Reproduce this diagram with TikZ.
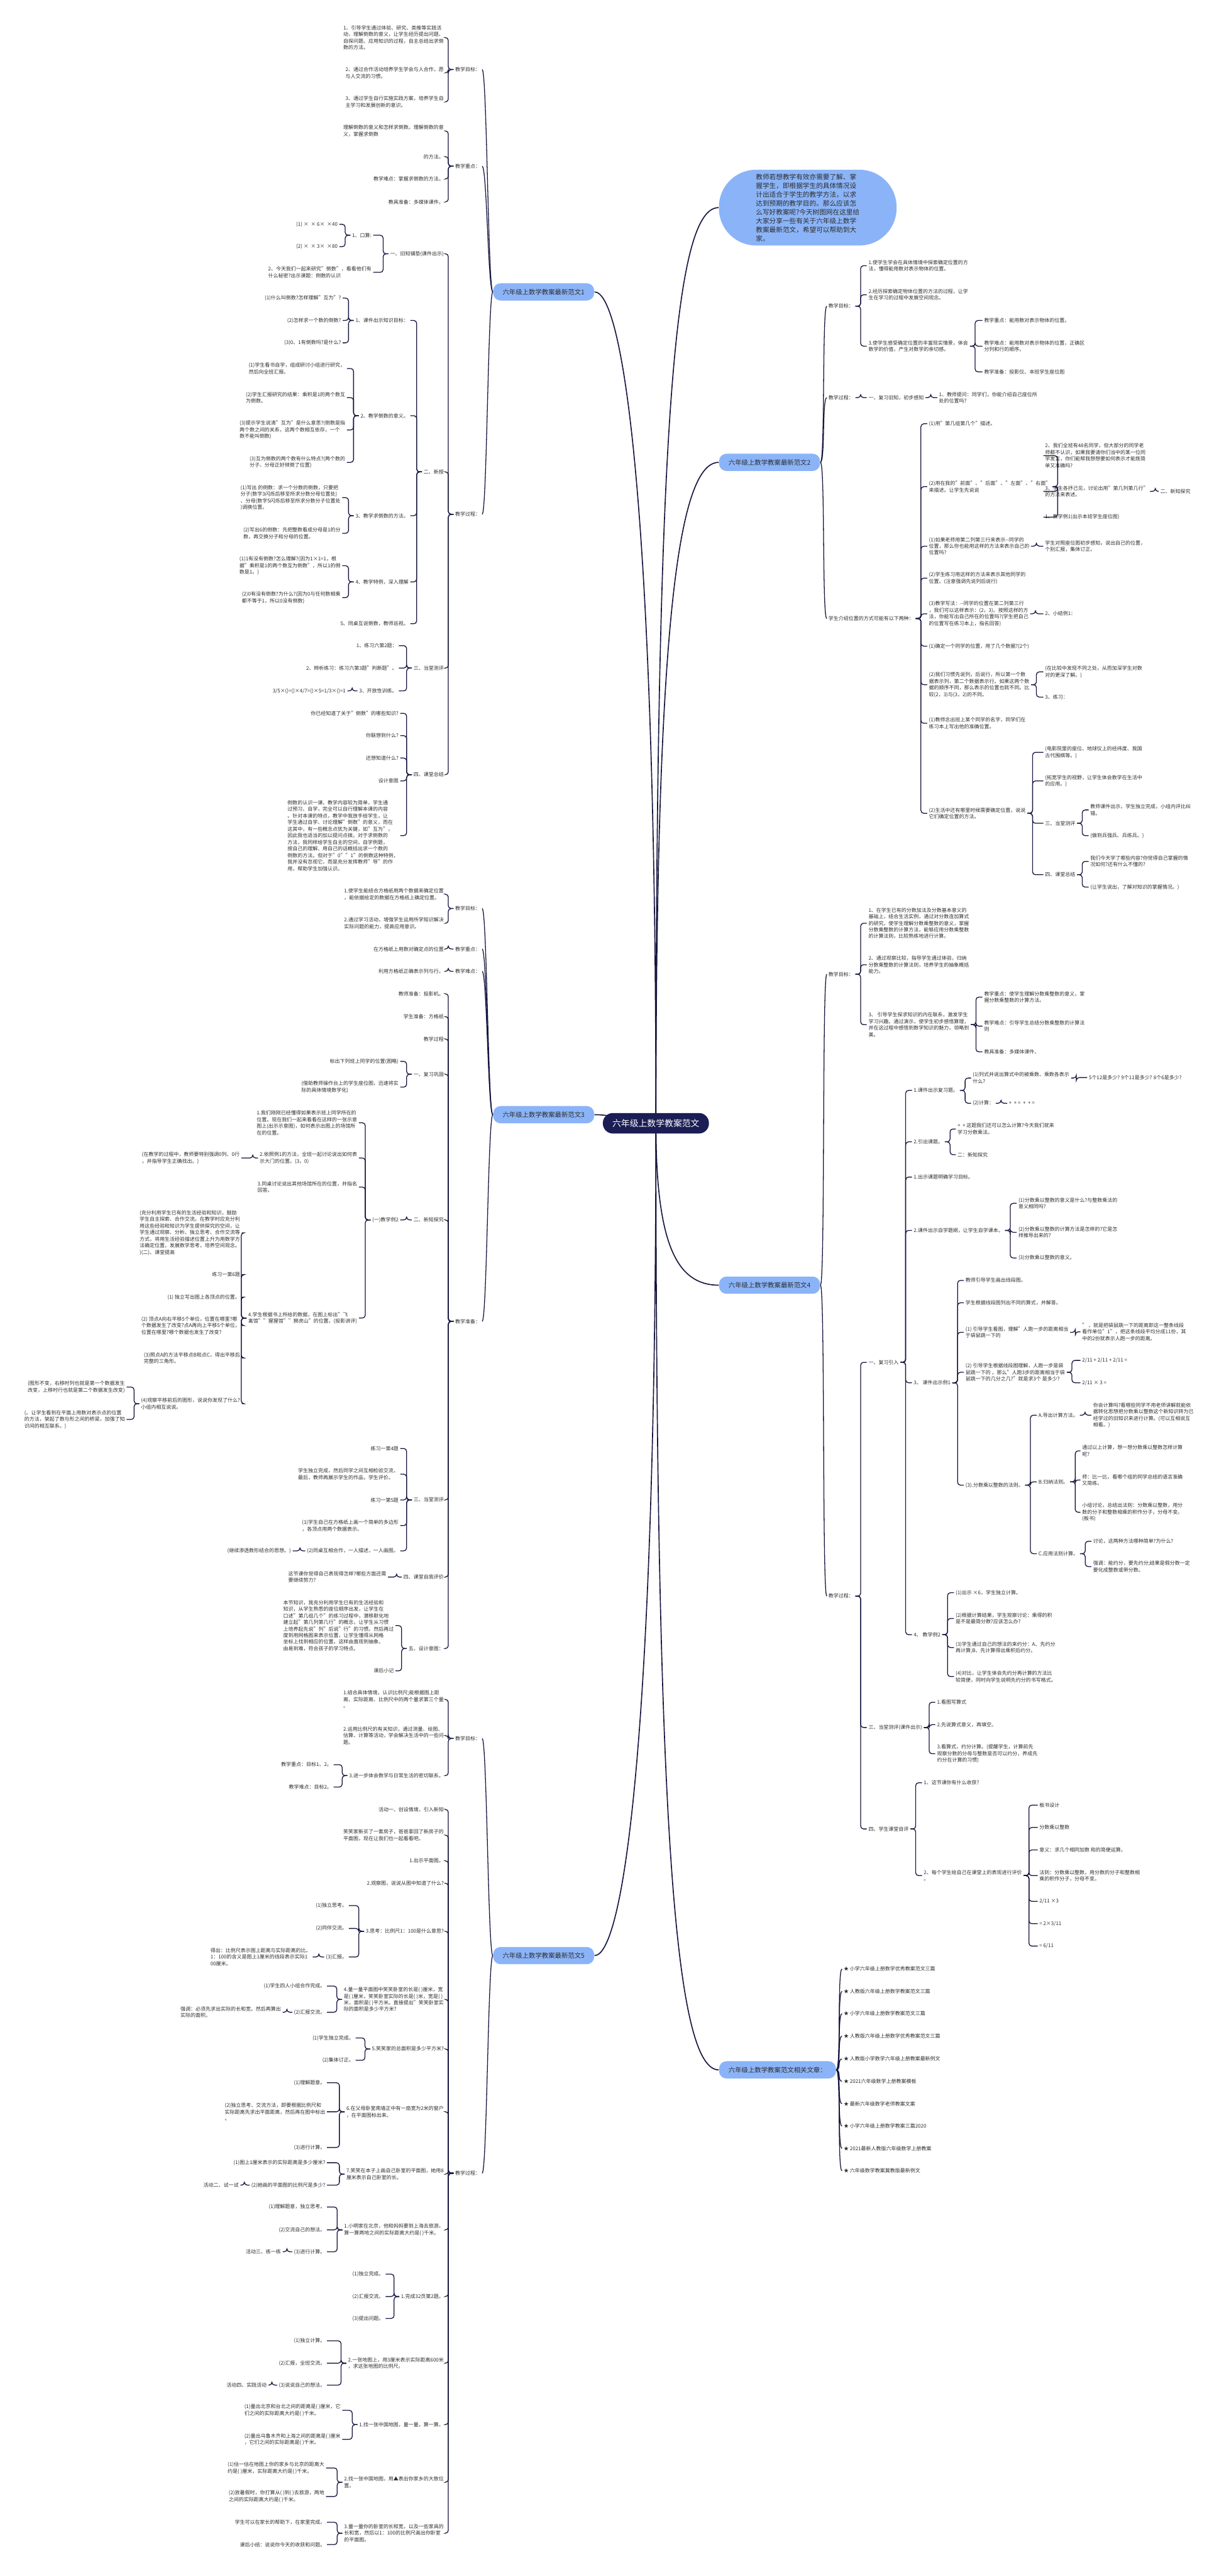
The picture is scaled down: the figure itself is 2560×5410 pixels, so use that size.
\documentclass[tikz,border=0pt]{standalone}
\usepackage{fontspec}
\setmainfont{Noto Sans CJK SC}
\usetikzlibrary{backgrounds}
\definecolor{mapNavy}{RGB}{27,29,84}
\definecolor{mapLine}{RGB}{22,22,64}
\definecolor{mapBlue}{RGB}{139,180,248}
\definecolor{mapText}{RGB}{45,45,45}
\newcommand\ft{\fontsize{3pt}{3.93pt}\selectfont}
\newcommand\joinL[2]{\foreach \kid in {#2} \draw[br] (#1.west) -- ++(-11,0) |- (#1\kid.east);}
\newcommand\joinR[2]{\foreach \kid in {#2} \draw[br] (#1.east) -- ++(11,0) |- (#1\kid.west);}
\newcommand\fanL[2]{\foreach \kid in {#2} \draw[br] (#1.west) .. controls +(-10,0) and +(10,0) .. (#1\kid.east);}
\newcommand\fanR[2]{\foreach \kid in {#2} \draw[br] (#1.east) .. controls +(10,0) and +(-10,0) .. (#1\kid.west);}
\begin{document}
\begin{tikzpicture}[x=0.01cm, y=-0.01cm,
    lf/.style={anchor=east, font=\ft, text=mapText, align=left, inner sep=0.03cm},
    rt/.style={anchor=west, font=\ft, text=mapText, align=left, inner sep=0.03cm},
    root/.style={fill=mapNavy, text=white, rounded corners=0.21cm, minimum height=0.43cm,
                 inner xsep=0.2cm, font=\fontsize{5.2pt}{6pt}\selectfont},
    topic/.style={fill=mapBlue, text=mapText, rounded corners=0.155cm, minimum height=0.31cm,
                  inner xsep=0.2cm, font=\fontsize{3.9pt}{4.5pt}\selectfont},
    note/.style={fill=mapBlue, text=mapText, rounded corners=0.78cm, minimum width=3.73cm,
                 minimum height=1.59cm, align=left, inner sep=0pt, font=\fontsize{4pt}{5.25pt}\selectfont},
    br/.style={draw=mapLine, line width=0.017cm, rounded corners=0.06cm},
    cv/.style={draw=mapLine, line width=0.022cm},
  ]
  \begin{scope}[on background layer]
    \fill[white] (0,0) rectangle (2560,5410);
  \end{scope}
  \useasboundingbox (0,0) rectangle (2560,5410);

  \node[root] (R) at (1378,2359) {六年级上数学教案范文};

  % ---------- 范文1 ----------
  \node[topic, anchor=east] (A) at (1249,613) {六年级上数学教案最新范文1};
  \node[lf] (A1) at (1013,146) {教学目标：};
  \node[lf] (A2) at (1013,349) {教学重点：};
  \node[lf] (A3) at (1013,1080) {教学过程：};
  \node[lf] (A1a) at (936,79) {1、引导学生通过体验、研究、类推等实践活\\动，理解倒数的意义，让学生经历提出问题、\\自探问题、应用知识的过程，自主总结出求倒\\数的方法。};
  \node[lf] (A1b) at (936,153) {2、通过合作活动培养学生学会与人合作，愿\\与人交流的习惯。};
  \node[lf] (A1c) at (936,214) {3、通过学生自行实施实践方案，培养学生自\\主学习和发展创新的意识。};
  \node[lf] (A2a) at (936,275) {理解倒数的意义和怎样求倒数。理解倒数的意\\义，掌握求倒数};
  \node[lf] (A2b) at (936,329) {的方法。};
  \node[lf] (A2c) at (936,376) {教学难点：掌握求倒数的方法。};
  \node[lf] (A2d) at (936,424) {教具准备：多媒体课件。};
  \node[lf] (A3a) at (936,533) {一、旧知铺垫(课件出示)};
  \node[lf] (A3b) at (936,991) {二、新授};
  \node[lf] (A3c) at (936,1403) {三、当堂测评};
  \node[lf] (A3d) at (936,1627) {四、课堂总结};
  \node[lf] (A3a1) at (784,494) {1、口算:};
  \node[lf] (A3a2) at (784,572) {2、今天我们一起来研究"倒数"，看看他们有\\什么秘密?出示课题：倒数的认识};
  \node[lf] (A3a1a) at (713,471) {(1) × \ × 6× \ ×40};
  \node[lf] (A3a1b) at (713,518) {(2) × \ × 3× \ ×80};
  \node[lf] (A3b1) at (862,673) {1、课件出示知识目标：};
  \node[lf] (A3b2) at (862,873) {2、教学倒数的意义。};
  \node[lf] (A3b3) at (862,1083) {3、教学求倒数的方法。};
  \node[lf] (A3b4) at (862,1222) {4、教学特例，深入理解};
  \node[lf] (A3b5) at (862,1310) {5、同桌互说倒数，教师巡视。};
  \node[lf] (A3b1a) at (720,626) {(1)什么叫倒数?怎样理解"互为"?};
  \node[lf] (A3b1b) at (720,673) {(2)怎样求一个数的倒数?};
  \node[lf] (A3b1c) at (720,720) {(3)0、1有倒数吗?是什么?};
  \node[lf] (A3b2a) at (729,774) {(1)学生看书自学，组成研讨小组进行研究，\\然后向全班汇报。};
  \node[lf] (A3b2b) at (729,835) {(2)学生汇报研究的结果：乘积是1的两个数互\\为倒数。};
  \node[lf] (A3b2c) at (729,903) {(3)提示学生说清"互为"是什么意思?(倒数是指\\两个数之间的关系，这两个数相互依存，一个\\数不能叫倒数)};
  \node[lf] (A3b2d) at (729,971) {(3)互为倒数的两个数有什么特点?(两个数的\\分子、分母正好倾倒了位置)};
  \node[lf] (A3b3a) at (719,1045) {(1)写出 的倒数：求一个分数的倒数，只要把\\分子(数字3闪烁后移至所求分数分母位置处)\\、分母(数字5闪烁后移至所求分数分子位置处\\)调换位置。};
  \node[lf] (A3b3b) at (719,1120) {(2)写出6的倒数：先把整数看成分母是1的分\\数，再交换分子和分母的位置。};
  \node[lf] (A3b4a) at (719,1188) {(1)1有没有倒数?怎么理解?(因为1×1=1，根\\据"乘积是1的两个数互为倒数"，所以1的倒\\数是1。)};
  \node[lf] (A3b4b) at (719,1255) {(2)0有没有倒数?为什么?(因为0与任何数相乘\\都不等于1，所以0没有倒数)};
  \node[lf] (A3c1) at (838,1356) {1、练习六第2题：};
  \node[lf] (A3c2) at (838,1403) {2、辨析练习：练习六第3题"判断题"。};
  \node[lf] (A3c3) at (838,1451) {3、开放性训练。};
  \node[lf] (A3c3a) at (730,1451) {3/5×()=()×4/7=()×5=1/3×()=1};
  \node[lf] (A3d1) at (841,1498) {你已经知道了关于"倒数"的哪些知识?};
  \node[lf] (A3d2) at (841,1545) {你联想到什么?};
  \node[lf] (A3d3) at (841,1592) {还想知道什么?};
  \node[lf] (A3d4) at (841,1640) {设计意图};
  \node[lf] (A3d5) at (841,1755) {倒数的认识一课，教学内容较为简单，学生通\\过预习、自学，完全可以自行理解本课的内容\\。针对本课的特点，教学中我放手给学生，让\\学生通过自学、讨论理解"倒数"的意义，而在\\这其中，有一些概念点犹为关键，如"互为"，\\因此我也适当的加以提问点拨。对于求倒数的\\方法，我同样给学生自主的空间，自学例题，\\按自己的理解、用自己的话概括出求一个数的\\倒数的方法。但对于"0""1"的倒数这种特例，\\我并没有忽视它，而是充分发挥教师"导"的作\\用，帮助学生加强认识。};

  % ---------- 范文3 ----------
  \node[topic, anchor=east] (B) at (1249,2341) {六年级上数学教案最新范文3};
  \node[lf] (B1) at (1013,1908) {教学目标：};
  \node[lf] (B2) at (1013,1993) {教学重点：};
  \node[lf] (B3) at (1013,2040) {教学难点：};
  \node[lf] (B4) at (1013,2775) {教学准备：};
  \node[lf] (B1a) at (936,1878) {1.使学生能结合方格纸用两个数据来确定位置\\，能依据给定的数据在方格纸上确定位置。};
  \node[lf] (B1b) at (936,1939) {2.通过学习活动，增强学生运用所学知识解决\\实际问题的能力，提高应用意识。};
  \node[lf] (B2a) at (936,1993) {在方格纸上用数对确定点的位置};
  \node[lf] (B3a) at (936,2040) {利用方格纸正确表示列与行。};
  \node[lf] (B4a) at (936,2087) {教师准备：投影机。};
  \node[lf] (B4b) at (936,2135) {学生准备：方格纸};
  \node[lf] (B4c) at (936,2182) {教学过程};
  \node[lf] (B4d) at (936,2256) {一、复习巩固};
  \node[lf] (B4e) at (936,2562) {二、新知探究};
  \node[lf] (B4f) at (936,3150) {三、当堂测评};
  \node[lf] (B4g) at (936,3312) {四、课堂自我评价};
  \node[lf] (B4h) at (936,3462) {五、设计意图：};
  \node[lf] (B4d1) at (841,2229) {标出下列班上同学的位置(图略)};
  \node[lf] (B4d2) at (841,2283) {(借助教师操作台上的学生座位图，迅速将实\\际的具体情境数学化)};
  \node[lf] (B4e1) at (841,2562) {(一)教学例2};
  \node[lf] (B4e1a) at (754,2358) {1.我们刚刚已经懂得如果表示班上同学所在的\\位置。现在我们一起来看看在这样的一张示意\\图上(出示示意图)，如何表示出图上的场馆所\\在的位置。};
  \node[lf] (B4e1b) at (754,2432) {2.依照例1的方法，全班一起讨论说出如何表\\示大门的位置。(3，0)};
  \node[lf] (B4e1c) at (754,2493) {3.同桌讨论说出其他场馆所在的位置，并指名\\回答。};
  \node[lf] (B4e1d) at (754,2768) {4.学生根据书上所给的数据，在图上标出"飞\\禽馆""猩猩馆""狮虎山"的位置。(投影讲评)};
  \node[lf] (B4e1b1) at (507,2432) {(在教学的过程中，教师要特别强调0列、0行\\，并指导学生正确找出。)};
  \node[lf] (B4e1d1) at (508,2589) {(充分利用学生已有的生活经验和知识，鼓励\\学生自主探索、合作交流。在教学时应充分利\\用这些经验和知识为学生提供探究的空间，让\\学生通过观察、分析、独立思考、合作交流等\\方式，将用生活经验描述位置上升为用数学方\\法确定位置，发展数学思考，培养空间观念。\\)(二)、课堂提高};
  \node[lf] (B4e1d2) at (508,2677) {练习一第6题};
  \node[lf] (B4e1d3) at (508,2724) {(1) 独立写出图上各顶点的位置。};
  \node[lf] (B4e1d4) at (508,2784) {(2) 顶点A向右平移5个单位，位置在哪里?哪\\个数据发生了改变?点A再向上平移5个单位，\\位置在哪里?哪个数据也发生了改变?};
  \node[lf] (B4e1d5) at (508,2852) {(3)照点A的方法平移点B和点C，得出平移后\\完整的三角形。};
  \node[lf] (B4e1d6) at (508,2948) {(4)观察平移前后的图形，说说你发现了什么?\\小组内相互说说。};
  \node[lf] (B4e1d6a) at (266,2913) {(图形不变，右移时列也就是第一个数据发生\\改变，上移时行也就是第二个数据发生改变)};
  \node[lf] (B4e1d6b) at (266,2981) {(。让学生看到在平面上用数对表示点的位置\\的方法，架起了数与形之间的桥梁，加强了知\\识间的相互联系。)};
  \node[lf] (B4f1) at (841,3042) {练习一第4题};
  \node[lf] (B4f2) at (841,3096) {学生独立完成，然后同学之间互相检验交流，\\最后，教师再展示学生的作品，学生评价。};
  \node[lf] (B4f3) at (841,3150) {练习一第5题};
  \node[lf] (B4f4) at (841,3204) {(1)学生自己在方格纸上画一个简单的多边形\\，各顶点用两个数据表示。};
  \node[lf] (B4f5) at (841,3257) {(2)同桌互相合作，一人描述，一人画图。};
  \node[lf] (B4f5a) at (615,3257) {(继续渗透数形结合的思想。)};
  \node[lf] (B4g1) at (815,3312) {这节课你觉得自己表现得怎样?哪些方面还需\\要继续努力?};
  \node[lf] (B4h1) at (831,3414) {本节知识，我充分利用学生已有的生活经验和\\知识，从学生熟悉的座位顺序出发，让学生在\\口述"第几组几个"的练习过程中，潜移默化地\\建立起"第几列第几行"的概念，让学生从习惯\\上培养起先说"列"后说"行"的习惯。然后再过\\度到用网格图来表示位置，让学生懂得从网格\\坐标上找到相应的位置。这样由直观到抽象、\\由易到难，符合孩子的学习特点。};
  \node[lf] (B4h2) at (831,3509) {课后小记};

  % ---------- 范文5 ----------
  \node[topic, anchor=east] (E) at (1249,4107) {六年级上数学教案最新范文5};
  \node[lf] (E1) at (1013,3651) {教学目标：};
  \node[lf] (E2) at (1013,4564) {教学过程：};
  \node[lf] (E1a) at (936,3569) {1.结合具体情境，认识比例尺;能根据图上距\\离、实际距离、比例尺中的两个量求第三个量\\。};
  \node[lf] (E1b) at (936,3645) {2.运用比例尺的有关知识，通过测量、绘图、\\估算、计算等活动，学会解决生活中的一些问\\题。};
  \node[lf] (E1c) at (936,3729) {3.进一步体会数学与日常生活的密切联系。};
  \node[lf] (E1c1) at (701,3706) {教学重点：目标1、2。};
  \node[lf] (E1c2) at (701,3753) {教学难点：目标2。};
  \node[lf] (E2a) at (936,3800) {活动一、创设情境，引入新知};
  \node[lf] (E2b) at (936,3854) {笑笑家新买了一套房子，爸爸拿回了新房子的\\平面图，现在让我们也一起看看吧。};
  \node[lf] (E2c) at (936,3908) {1.出示平面图。};
  \node[lf] (E2d) at (936,3955) {2.观察图，说说从图中知道了什么?};
  \node[lf] (E2e) at (936,4056) {3.思考：比例尺1：100是什么意思?};
  \node[lf] (E2f) at (936,4199) {4.量一量平面图中笑笑卧室的长是( )厘米，宽\\是( )厘米，笑笑卧室实际的长是( )米，宽是( )\\米，面积是( )平方米。直接提出"笑笑卧室实\\际的面积是多少平方米?};
  \node[lf] (E2g) at (936,4303) {5.笑笑家的总面积是多少平方米?};
  \node[lf] (E2h) at (936,4435) {6.在父母卧室南墙正中有一扇宽为2米的窗户\\，在平面图标出来。};
  \node[lf] (E2i) at (936,4566) {7.笑笑在本子上画自己卧室的平面图，她用8\\厘米表示自己卧室的长。};
  \node[lf] (E2j) at (936,4683) {1.小明家在北京，他和妈妈要到上海去旅游。\\算一算两地之间的实际距离大约是( )千米。};
  \node[lf] (E2k) at (936,4823) {1.完成32页第2题。};
  \node[lf] (E2l) at (936,4963) {2.一张地图上，用3厘米表示实际距离600米\\，求这张地图的比例尺。};
  \node[lf] (E2m) at (936,5092) {1.找一张中国地图，量一量，算一算。};
  \node[lf] (E2n) at (936,5213) {2.找一张中国地图，用▲表出你家乡的大致位\\置。};
  \node[lf] (E2o) at (936,5320) {3.量一量你的卧室的长和宽，以及一些家具的\\长和宽，然后以1：100的比例尺画出你卧室\\的平面图。};
  \node[lf] (E2e1) at (733,4002) {(1)独立思考。};
  \node[lf] (E2e2) at (733,4050) {(2)同伴交流。};
  \node[lf] (E2e3) at (733,4110) {(3)汇报。};
  \node[lf] (E2e3a) at (657,4110) {得出：比例尺表示图上距离与实际距离的比。\\1：100的含义是图上1厘米的线段表示实际1\\00厘米。};
  \node[lf] (E2f1) at (687,4171) {(1)学生四人小组合作完成。};
  \node[lf] (E2f2) at (687,4226) {(2)汇报交流。};
  \node[lf] (E2f2a) at (594,4226) {强调：必须先求出实际的长和宽，然后再算出\\实际的面积。};
  \node[lf] (E2g1) at (747,4280) {(1)学生独立完成。};
  \node[lf] (E2g2) at (747,4327) {(2)集体订正。};
  \node[lf] (E2h1) at (687,4374) {(1)理解题意。};
  \node[lf] (E2h2) at (687,4435) {(2)独立思考、交流方法，即要根据比例尺和\\实际距离先求出平面距离，然后再在图中标出\\。};
  \node[lf] (E2h3) at (687,4510) {(3)进行计算。};
  \node[lf] (E2i1) at (687,4542) {(1)图上1厘米表示的实际距离是多少厘米?};
  \node[lf] (E2i2) at (687,4589) {(2)她画的平面图的比例尺是多少?};
  \node[lf] (E2i2a) at (505,4589) {活动二、试一试};
  \node[lf] (E2j1) at (687,4635) {(1)理解题意，独立思考。};
  \node[lf] (E2j2) at (687,4683) {(2)交流自己的想法。};
  \node[lf] (E2j3) at (687,4729) {(3)进行计算。};
  \node[lf] (E2j3a) at (594,4729) {活动三、练一练};
  \node[lf] (E2k1) at (810,4776) {(1)独立完成。};
  \node[lf] (E2k2) at (810,4823) {(2)汇报交流。};
  \node[lf] (E2k3) at (810,4869) {(3)提出问题。};
  \node[lf] (E2l1) at (687,4916) {(1)独立计算。};
  \node[lf] (E2l2) at (687,4963) {(2)汇报，全班交流。};
  \node[lf] (E2l3) at (687,5009) {(3)说说自己的想法。};
  \node[lf] (E2l3a) at (564,5009) {活动四、实践活动};
  \node[lf] (E2m1) at (719,5062) {(1)量出北京和台北之间的距离是( )厘米，它\\们之间的实际距离大约是( )千米。};
  \node[lf] (E2m2) at (719,5123) {(2)量出乌鲁木齐和上海之间的距离是( )厘米\\，它们之间的实际距离是( )千米。};
  \node[lf] (E2n1) at (685,5183) {(1)估一估在地图上你的家乡与北京的距离大\\约是( )厘米，实际距离大约是( )千米。};
  \node[lf] (E2n2) at (685,5243) {(2)放暑假时，你打算从( )到( )去旅游，两地\\之间的实际距离大约是( )千米。};
  \node[lf] (E2o1) at (687,5297) {学生可以在家长的帮助下，在家里完成。};
  \node[lf] (E2o2) at (687,5344) {课后小结：说说你今天的收获和问题。};

  % ---------- 导语 ----------
  \node[note] (N) at (1697,436) {教师若想教学有效亦需要了解、掌\\握学生，即根据学生的具体情况设\\计出适合于学生的教学方法，以求\\达到预期的教学目的。那么应该怎\\么写好教案呢?今天树图网在这里给\\大家分享一些有关于六年级上数学\\教案最新范文，希望可以帮助到大\\家。};

  % ---------- 范文2 ----------
  \node[topic, anchor=west] (C) at (1510,971) {六年级上数学教案最新范文2};
  \node[rt] (C1) at (1737,643) {教学目标：};
  \node[rt] (C2) at (1737,835) {教学过程：};
  \node[rt] (C3) at (1737,1299) {学生介绍位置的方式可能有以下两种：};
  \node[rt] (C1a) at (1821,558) {1.使学生学会在具体情境中探索确定位置的方\\法，懂得能用数对表示物体的位置。};
  \node[rt] (C1b) at (1821,619) {2.经历探索确定物体位置的方法的过程，让学\\生在学习的过程中发展空间观念。};
  \node[rt] (C1c) at (1821,727) {3.使学生感受确定位置的丰富现实情景，体会\\数学的价值，产生对数学的亲切感。};
  \node[rt] (C1c1) at (2064,673) {教学重点：能用数对表示物体的位置。};
  \node[rt] (C1c2) at (2064,727) {教学难点：能用数对表示物体的位置，正确区\\分列和行的顺序。};
  \node[rt] (C1c3) at (2064,781) {教学准备：投影仪、本班学生座位图};
  \node[rt] (C2a) at (1821,835) {一、复习旧知，初步感知};
  \node[rt] (C2a1) at (1969,835) {1、教师提问：同学们，你能介绍自己座位所\\处的位置吗?};
  \node[rt] (C3a) at (1948,890) {(1)用"第几组第几个"描述。};
  \node[rt] (C3b) at (1948,1022) {(2)用在我的"前面"、"后面"、"左面"、"右面"\\来描述。让学生先说说};
  \node[rt] (C3c) at (1948,1147) {(1)如果老师用第二列第三行来表示-{}-同学的\\位置，那么你也能用这样的方法来表示自己的\\位置吗?};
  \node[rt] (C3d) at (1948,1214) {(2)学生练习用这样的方法来表示其他同学的\\位置。(注意强调先说列后说行)};
  \node[rt] (C3e) at (1948,1289) {(3)教学写法：-{}-同学的位置在第二列第三行\\，我们可以这样表示：(2，3)。按照这样的方\\法，你能写出自己所在的位置吗?(学生把自己\\的位置写在练习本上，指名回答)};
  \node[rt] (C3f) at (1948,1357) {(1)确定一个同学的位置，用了几个数据?(2个)};
  \node[rt] (C3g) at (1948,1438) {(2)我们习惯先说列，后说行，所以第一个数\\据表示列，第二个数据表示行。如果这两个数\\据的顺序不同，那么表示的位置也就不同。比\\较(2，3)与(3，2)的不同。};
  \node[rt] (C3h) at (1948,1519) {(1)教师念出班上某个同学的名字，同学们在\\练习本上写出他的准确位置。};
  \node[rt] (C3i) at (1948,1708) {(2)生活中还有哪里时候需要确定位置，说说\\它们确定位置的方法。};
  \node[rt] (C3b1) at (2192,957) {2、我们全班有48名同学，但大部分的同学老\\师都不认识，如果我要请你们当中的某一位同\\学发言，你们能帮我想想要如何表示才能既简\\单又准确吗?};
  \node[rt] (C3b2) at (2192,1032) {3、学生各抒己见，讨论出用"第几列第几行"\\的方法来表述。};
  \node[rt] (C3b3) at (2192,1086) {1、教学例1(出示本班学生座位图)};
  \node[rt] (C3b2a) at (2434,1032) {二、新知探究};
  \node[rt] (C3c1) at (2192,1147) {学生对照座位图初步感知，说出自己的位置，\\个别汇报，集体订正。};
  \node[rt] (C3e1) at (2192,1289) {2、小结例1：};
  \node[rt] (C3g1) at (2192,1411) {(在比较中发现不同之处，从而加深学生对数\\对的更深了解。)};
  \node[rt] (C3g2) at (2192,1464) {3、练习：};
  \node[rt] (C3i1) at (2192,1580) {(电影院里的座位、地球仪上的经纬度、我国\\古代围棋等。)};
  \node[rt] (C3i2) at (2192,1640) {(拓宽学生的视野，让学生体会数学在生活中\\的应用。)};
  \node[rt] (C3i3) at (2192,1729) {三、当堂测评};
  \node[rt] (C3i4) at (2192,1837) {四、课堂总结};
  \node[rt] (C3i3a) at (2287,1701) {教师课件出示，学生独立完成，小组内评比纠\\错。};
  \node[rt] (C3i3b) at (2287,1755) {(做到兵强兵、兵练兵。)};
  \node[rt] (C3i4a) at (2287,1809) {我们今天学了哪些内容?你觉得自己掌握的情\\况如何?还有什么不懂的?};
  \node[rt] (C3i4b) at (2287,1863) {(让学生说出，了解对知识的掌握情况。)};

  % ---------- 范文4 ----------
  \node[topic, anchor=west] (D) at (1510,2699) {六年级上数学教案最新范文4};
  \node[rt] (D1) at (1737,2046) {教学目标：};
  \node[rt] (D2) at (1737,3352) {教学过程：};
  \node[rt] (D1a) at (1821,1939) {1、在学生已有的分数加法及分数基本意义的\\基础上，结合生活实例，通过对分数连加算式\\的研究，使学生理解分数乘整数的意义，掌握\\分数乘整数的计算方法，能够应用分数乘整数\\的计算法则，比较熟练地进行计算。};
  \node[rt] (D1b) at (1821,2026) {2、通过观察比较，指导学生通过体验，归纳\\分数乘整数的计算法则，培养学生的抽象概括\\能力。};
  \node[rt] (D1c) at (1821,2152) {3、 引导学生探求知识的内在联系，激发学生\\学习兴趣。通过演示，使学生初步感悟算理，\\并在这过程中感悟到数学知识的魅力，领略到\\美。};
  \node[rt] (D1c1) at (2064,2094) {教学重点：使学生理解分数乘整数的意义，掌\\握分数乘整数的计算方法。};
  \node[rt] (D1c2) at (2064,2155) {教学难点：引导学生总结分数乘整数的计算法\\则};
  \node[rt] (D1c3) at (2064,2209) {教具准备：多媒体课件、};
  \node[rt] (D2a) at (1821,2861) {一、复习引入};
  \node[rt] (D2b) at (1821,3628) {三、当堂测评(课件出示)};
  \node[rt] (D2c) at (1821,3841) {四、学生课堂自评};
  \node[rt] (D2a1) at (1916,2290) {1.课件出示复习题。};
  \node[rt] (D2a2) at (1916,2398) {2.引出课题。};
  \node[rt] (D2a3) at (1916,2472) {1.出示课题明确学习目标。};
  \node[rt] (D2a4) at (1916,2584) {2.课件出示自学题纲，让学生自学课本。};
  \node[rt] (D2a5) at (1916,2904) {3、 课件出示例1};
  \node[rt] (D2a6) at (1916,3433) {4、 教学例2};
  \node[rt] (D2a1a) at (2040,2264) {(1)列式并说出算式中的被乘数、乘数各表示\\什么?};
  \node[rt] (D2a1b) at (2040,2317) {(2)计算：};
  \node[rt] (D2a1a1) at (2284,2263) {5个12是多少? 9个11是多少? 8个6是多少?};
  \node[rt] (D2a1b1) at (2116,2317) {+ \ + = \ + \ + =};
  \node[rt] (D2a2a) at (2008,2371) {+ \ + 这题我们还可以怎么计算?今天我们就来\\学习分数乘法。};
  \node[rt] (D2a2b) at (2008,2425) {二：新知探究};
  \node[rt] (D2a4a) at (2136,2527) {(1)分数乘以整数的意义是什么?与整数乘法的\\意义相同吗?};
  \node[rt] (D2a4b) at (2136,2588) {(2)分数乘以整数的计算方法是怎样的?它是怎\\样推导出来的?};
  \node[rt] (D2a4c) at (2136,2642) {(3)分数乘以整数的意义。};
  \node[rt] (D2a5a) at (2025,2689) {教师引导学生画出线段图。};
  \node[rt] (D2a5b) at (2025,2736) {学生根据线段图列出不同的算式，并解答。};
  \node[rt] (D2a5c) at (2025,2798) {(1) 引导学生看图，理解"人跑一步的距离相当\\于袋鼠跳一下的};
  \node[rt] (D2a5d) at (2025,2882) {(2) 引导学生根据线段图理解，人跑一步是袋\\鼠跳一下的 ，那么"人跑3步的距离相当于袋\\鼠跳一下的几分之几?"就是求3个 是多少?};
  \node[rt] (D2a5e) at (2025,3119) {(3).分数乘以整数的法则。};
  \node[rt] (D2a5c1) at (2270,2797) {" ，就是把袋鼠跳一下的距离即这一整条线段\\看作单位"1"，把这条线段平均分成11份，其\\中的2份就表示人跑一步的距离。};
  \node[rt] (D2a5d1) at (2270,2857) {2/11 + 2/11 + 2/11 =};
  \node[rt] (D2a5d2) at (2270,2904) {2/11 × 3 =};
  \node[rt] (D2a5e1) at (2178,2972) {A.导出计算方法。};
  \node[rt] (D2a5e2) at (2178,3112) {B.归纳法则。};
  \node[rt] (D2a5e3) at (2178,3263) {C.应用法则计算。};
  \node[rt] (D2a5e1a) at (2293,2972) {你会计算吗?看哪些同学不用老师讲解就能依\\据转化思想把分数乘以整数这个新知识转为已\\经学过的旧知识来进行计算。(可以互相说互\\相看。)};
  \node[rt] (D2a5e2a) at (2270,3047) {通过以上计算，想一想分数乘以整数怎样计算\\呢?};
  \node[rt] (D2a5e2b) at (2270,3108) {师：比一比，看哪个组的同学总结的语言准确\\又简练。};
  \node[rt] (D2a5e2c) at (2270,3176) {小组讨论，总结出法则：分数乘以整数，用分\\数的分子和整数相乘的积作分子，分母不变。\\(板书)};
  \node[rt] (D2a5e3a) at (2293,3237) {讨论，这两种方法哪种简单?为什么?};
  \node[rt] (D2a5e3b) at (2293,3290) {强调：能约分，要先约分;结果是假分数一定\\要化成整数或带分数。};
  \node[rt] (D2a6a) at (2004,3345) {(1)出示 ×6，学生独立计算。};
  \node[rt] (D2a6b) at (2004,3399) {(2)根据计算结果，学生观察讨论：乘得的积\\是不是最简分数?应该怎么办?};
  \node[rt] (D2a6c) at (2004,3460) {(3)学生通过自己的想法的来约分：A、先约分\\再计算;B、先计算得出乘积后约分。};
  \node[rt] (D2a6d) at (2004,3521) {(4)对比，让学生体会先约分再计算的方法比\\较简便，同时向学生说明先约分的书写格式。};
  \node[rt] (D2b1) at (1965,3575) {1.看图写算式};
  \node[rt] (D2b2) at (1965,3622) {2.先说算式意义，再填空。};
  \node[rt] (D2b3) at (1965,3683) {3.看算式，约分计算。(提醒学生，计算前先\\观察分数的分母与整数是否可以约分，养成先\\约分在计算的习惯)};
  \node[rt] (D2c1) at (1937,3744) {1、这节课你有什么收获?};
  \node[rt] (D2c2) at (1937,3939) {2、每个学生给自己在课堂上的表现进行评价\\。};
  \node[rt] (D2c2a) at (2180,3791) {板书设计};
  \node[rt] (D2c2b) at (2180,3838) {分数乘以整数};
  \node[rt] (D2c2c) at (2180,3885) {意义：求几个相同加数 和的简便运算。};
  \node[rt] (D2c2d) at (2180,3939) {法则：分数乘以整数，用分数的分子和整数相\\乘的积作分子，分母不变。};
  \node[rt] (D2c2e) at (2180,3993) {2/11 ×3};
  \node[rt] (D2c2f) at (2180,4040) {= 2×3/11};
  \node[rt] (D2c2g) at (2180,4087) {= 6/11};

  % ---------- 相关文章 ----------
  \node[topic, anchor=west] (F) at (1510,4347) {六年级上数学教案范文相关文章：};
  \node[rt] (F1) at (1769,4135) {★ 小学六年级上册数学优秀教案范文三篇};
  \node[rt] (F2) at (1769,4182) {★ 人教版六年级上册数学教案范文三篇};
  \node[rt] (F3) at (1769,4229) {★ 小学六年级上册数学教案范文三篇};
  \node[rt] (F4) at (1769,4276) {★ 人教版六年级上册数学优秀教案范文三篇};
  \node[rt] (F5) at (1769,4324) {★ 人教版小学数学六年级上册教案最新例文};
  \node[rt] (F6) at (1769,4371) {★ 2021六年级数学上册教案模板};
  \node[rt] (F7) at (1769,4418) {★ 最新六年级数学老师教案文案};
  \node[rt] (F8) at (1769,4465) {★ 小学六年级上册数学教案三篇2020};
  \node[rt] (F9) at (1769,4512) {★ 2021最新人教版六年级数学上册教案};
  \node[rt] (F10) at (1769,4559) {★ 六年级数学教案冀教版最新例文};

  % main curves
  \begin{scope}[on background layer]
    \draw[cv] (R.center) .. controls +(0,-1300) and +(60,0) .. (A.east);
    \draw[cv] (R.center) .. controls +(-60,0) and +(50,0) .. (B.east);
    \draw[cv] (R.center) .. controls +(0,1300) and +(60,0) .. (E.east);
    \draw[cv] (R.center) .. controls +(0,-1500) and +(-90,0) .. (N.west);
    \draw[cv] (R.center) .. controls +(0,-1000) and +(-90,0) .. (C.west);
    \draw[cv] (R.center) .. controls +(0,250) and +(-90,0) .. (D.west);
    \draw[cv] (R.center) .. controls +(0,1500) and +(-90,0) .. (F.west);
  \end{scope}

  % left brackets
  \fanL{A}{1,2,3}
  \joinL{A1}{a,b,c}
  \joinL{A2}{a,b,c,d}
  \joinL{A3}{a,b,c,d}
  \joinL{A3a}{1,2}
  \joinL{A3a1}{a,b}
  \joinL{A3b}{1,2,3,4,5}
  \joinL{A3b1}{a,b,c}
  \joinL{A3b2}{a,b,c,d}
  \joinL{A3b3}{a,b}
  \joinL{A3b4}{a,b}
  \joinL{A3c}{1,2,3}
  \joinL{A3c3}{a}
  \joinL{A3d}{1,2,3,4,5}
  \fanL{B}{1,2,3,4}
  \joinL{B1}{a,b}
  \joinL{B2}{a}
  \joinL{B3}{a}
  \joinL{B4}{a,b,c,d,e,f,g,h}
  \joinL{B4d}{1,2}
  \joinL{B4e}{1}
  \joinL{B4e1}{a,b,c,d}
  \joinL{B4e1b}{1}
  \joinL{B4e1d}{1,2,3,4,5,6}
  \joinL{B4e1d6}{a,b}
  \joinL{B4f}{1,2,3,4,5}
  \joinL{B4f5}{a}
  \joinL{B4g}{1}
  \joinL{B4h}{1,2}
  \fanL{E}{1,2}
  \joinL{E1}{a,b,c}
  \joinL{E1c}{1,2}
  \joinL{E2}{a,b,c,d,e,f,g,h,i,j,k,l,m,n,o}
  \joinL{E2e}{1,2,3}
  \joinL{E2e3}{a}
  \joinL{E2f}{1,2}
  \joinL{E2f2}{a}
  \joinL{E2g}{1,2}
  \joinL{E2h}{1,2,3}
  \joinL{E2i}{1,2}
  \joinL{E2i2}{a}
  \joinL{E2j}{1,2,3}
  \joinL{E2j3}{a}
  \joinL{E2k}{1,2,3}
  \joinL{E2l}{1,2,3}
  \joinL{E2l3}{a}
  \joinL{E2m}{1,2}
  \joinL{E2n}{1,2}
  \joinL{E2o}{1,2}

  % right brackets
  \fanR{C}{1,2,3}
  \joinR{C1}{a,b,c}
  \joinR{C1c}{1,2,3}
  \joinR{C2}{a}
  \joinR{C2a}{1}
  \joinR{C3}{a,b,c,d,e,f,g,h,i}
  \joinR{C3b}{1,2,3}
  \joinR{C3b2}{a}
  \joinR{C3c}{1}
  \joinR{C3e}{1}
  \joinR{C3g}{1,2}
  \joinR{C3i}{1,2,3,4}
  \joinR{C3i3}{a,b}
  \joinR{C3i4}{a,b}
  \fanR{D}{1,2}
  \joinR{D1}{a,b,c}
  \joinR{D1c}{1,2,3}
  \joinR{D2}{a,b,c}
  \joinR{D2a}{1,2,3,4,5,6}
  \joinR{D2a1}{a,b}
  \joinR{D2a1a}{1}
  \joinR{D2a1b}{1}
  \joinR{D2a2}{a,b}
  \joinR{D2a4}{a,b,c}
  \joinR{D2a5}{a,b,c,d,e}
  \joinR{D2a5c}{1}
  \joinR{D2a5d}{1,2}
  \joinR{D2a5e}{1,2,3}
  \joinR{D2a5e1}{a}
  \joinR{D2a5e2}{a,b,c}
  \joinR{D2a5e3}{a,b}
  \joinR{D2a6}{a,b,c,d}
  \joinR{D2b}{1,2,3}
  \joinR{D2c}{1,2}
  \joinR{D2c2}{a,b,c,d,e,f,g}
  \fanR{F}{1,2,3,4,5,6,7,8,9,10}
\end{tikzpicture}
\end{document}
